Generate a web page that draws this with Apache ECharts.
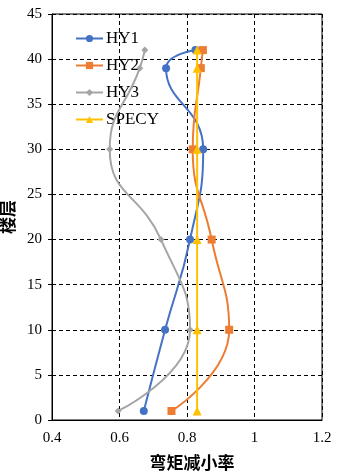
<!DOCTYPE html>
<html>
<head>
<meta charset="utf-8">
<script src="https://cdn.jsdelivr.net/npm/echarts@6/dist/echarts.min.js"></script>
<style>
  html, body { margin: 0; padding: 0; background: #fff; }
  #chart { width: 339px; height: 476px; }
</style>
</head>
<body>
<div id="chart"></div>
<script>
// Storey levels where the reduction ratios are sampled
const floors = [1, 10, 20, 30, 39, 41];

// Bending-moment reduction ratio per storey
const hy1 = [0.672, 0.735, 0.809, 0.848, 0.738, 0.825];
const hy2 = [0.754, 0.925, 0.873, 0.817, 0.841, 0.847];
const hy3 = [0.596, 0.809, 0.723, 0.571, 0.660, 0.675];
const specy = [0.83, 0.83, 0.83, 0.83, 0.83, 0.83];

const seriesNames = ['HY1', 'HY2', 'HY3', 'SPECY'];
const seriesValues = [hy1, hy2, hy3, specy];
const seriesColors = ['#4472C4', '#ED7D31', '#A5A5A5', '#FFC000'];
const seriesSymbols = ['circle', 'rect', 'diamond', 'triangle'];
const seriesSymbolSizes = [8, 8, 7, 9];

const FONT = "'Liberation Serif', 'Times New Roman', 'Noto Sans CJK SC', serif";
const CJK = "'Noto Sans CJK SC', sans-serif";

const chart = echarts.init(document.getElementById('chart'), null, { renderer: 'canvas' });

const gridLine = { show: true, lineStyle: { color: '#000', type: [4, 3], width: 1 } };

chart.setOption({
  animation: false,
  backgroundColor: '#fff',
  grid: {
    left: 52, right: 17, top: 14, bottom: 56,
    containLabel: false,
    outerBoundsMode: 'none',
    show: true, borderColor: '#000', borderWidth: 1, backgroundColor: 'transparent'
  },
  legend: {
    orient: 'vertical',
    left: 70, top: 25,
    itemWidth: 27, itemHeight: 9, itemGap: 10,
    textStyle: { fontFamily: FONT, fontSize: 17, color: '#000', padding: [0, 0, 0, -2] },
    data: seriesNames
  },
  xAxis: {
    type: 'value',
    min: 0.4, max: 1.2, interval: 0.2,
    name: '弯矩减小率',
    nameLocation: 'middle',
    nameGap: 34,
    nameTextStyle: { fontFamily: CJK, fontSize: 17, fontWeight: 'bold', color: '#000', padding: [0, 0, 0, 10] },
    axisLine: { show: true, lineStyle: { color: '#000', width: 1 } },
    axisTick: { show: false },
    axisLabel: { fontFamily: FONT, fontSize: 15, color: '#000', margin: 11,
      formatter: v => String(Math.round(v * 10) / 10) },
    splitLine: gridLine
  },
  yAxis: {
    type: 'value',
    min: 0, max: 45, interval: 5,
    name: '楼层',
    nameLocation: 'middle',
    nameGap: 30,
    nameRotate: 90,
    nameTextStyle: { fontFamily: CJK, fontSize: 17, fontWeight: 'bold', color: '#000' },
    axisLine: { show: true, lineStyle: { color: '#000', width: 1 } },
    axisTick: { show: true, length: 4, lineStyle: { color: '#000' } },
    axisLabel: { fontFamily: FONT, fontSize: 15, color: '#000', margin: 10 },
    splitLine: gridLine
  },
  series: seriesNames.map((name, i) => ({
    name: name,
    type: 'line',
    smooth: 0.5,
    symbol: seriesSymbols[i],
    symbolSize: seriesSymbolSizes[i],
    showAllSymbol: true,
    color: seriesColors[i],
    lineStyle: { color: seriesColors[i], width: 2 },
    itemStyle: { color: seriesColors[i] },
    z: 2 + i,
    data: floors.map((f, k) => [seriesValues[i][k], f])
  }))
});
</script>
</body>
</html>
